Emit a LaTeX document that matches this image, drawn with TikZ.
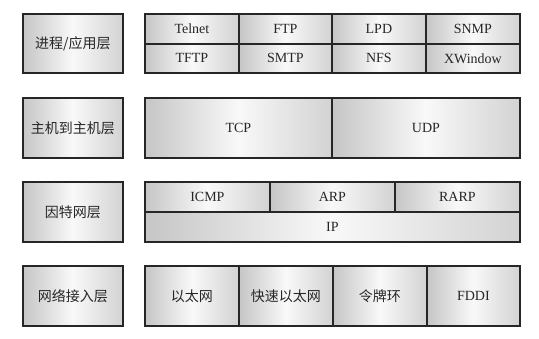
\documentclass[tikz,border=0pt]{standalone}
\usepackage{fontspec}
\setmainfont{Liberation Serif}
\newfontfamily\cjk{Noto Sans CJK SC}
\newcommand\cellat[6]{\node[cell, minimum width=#4pt, minimum height=#5pt] (#1) at (#2,#3) {#6};}
\begin{document}
\begin{tikzpicture}[x=1pt,y=-1pt,
  cell/.style={draw=black!85, line width=1.8pt,
    left color=gray!45, right color=gray!35, middle color=gray!5,
    inner sep=0pt, anchor=north west, text=black!85,
    font=\fontsize{14}{16}\selectfont}]
\useasboundingbox[fill=white] (0,0) rectangle (539,339);

% layer names
\cellat{app}{22}{13}{100}{59}{\cjk 进程/应用层}
\cellat{host}{22}{97}{100}{60}{\cjk 主机到主机层}
\cellat{inet}{22}{181}{100}{60}{\cjk 因特网层}
\cellat{netacc}{22}{265}{100}{60}{\cjk 网络接入层}

% application layer protocols
\cellat{telnet}{144}{13}{94}{30}{Telnet}
\cellat{ftp}{238}{13}{93}{30}{FTP}
\cellat{lpd}{331}{13}{94}{30}{LPD}
\cellat{snmp}{425}{13}{94}{30}{SNMP}
\cellat{tftp}{144}{43}{94}{29}{TFTP}
\cellat{smtp}{238}{43}{93}{29}{SMTP}
\cellat{nfs}{331}{43}{94}{29}{NFS}
\cellat{xwin}{425}{43}{94}{29}{XWindow}

% transport layer
\cellat{tcp}{144}{97}{187}{60}{TCP}
\cellat{udp}{331}{97}{188}{60}{UDP}

% internet layer
\cellat{icmp}{144}{181}{125}{30}{ICMP}
\cellat{arp}{269}{181}{125}{30}{ARP}
\cellat{rarp}{394}{181}{125}{30}{RARP}
\cellat{ip}{144}{211}{375}{30}{IP}

% network access layer
\cellat{eth}{144}{265}{94}{60}{\cjk 以太网}
\cellat{feth}{238}{265}{94}{60}{\cjk 快速以太网}
\cellat{token}{332}{265}{94}{60}{\cjk 令牌环}
\cellat{fddi}{426}{265}{93}{60}{FDDI}
\end{tikzpicture}
\end{document}
